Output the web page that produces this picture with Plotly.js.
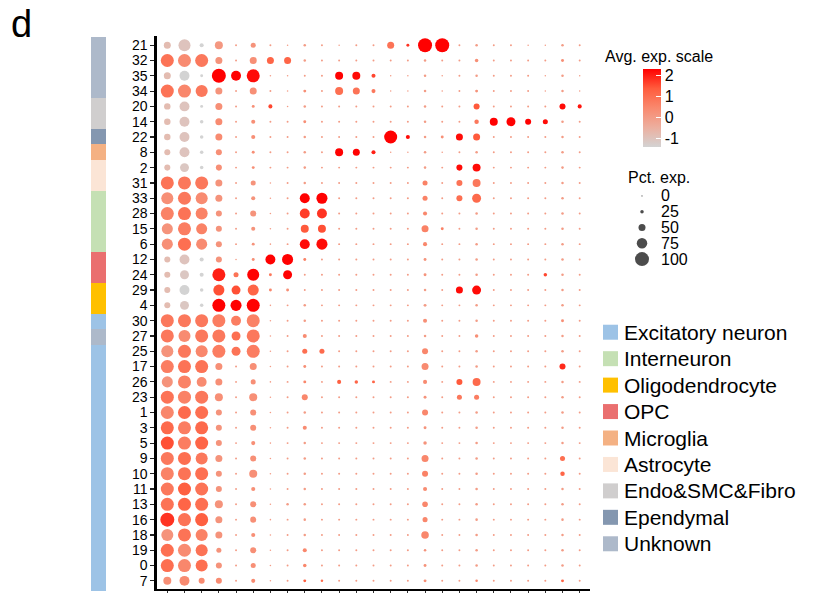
<!DOCTYPE html>
<html>
<head>
<meta charset="utf-8">
<script src="https://cdn.plot.ly/plotly-3.0.1.min.js"></script>
<style>html,body{margin:0;padding:0;background:#fff}#chart{width:814px;height:593px}</style>
</head>
<body>
<div id="chart"></div>
<script>
// ---------------- DATA ----------------
const clusters = ['21','32','35','34','20','14','22','8','2','31','33','28','15','6','12','24','29','4','30','27','25','17','26','23','1','3','5','9','10','11','13','16','18','19','0','7'];
const genes = ['G01','G02','G03','G04','G05','G06','G07','G08','G09','G10','G11','G12','G13','G14','G15','G16','G17','G18','G19','G20','G21','G22','G23','G24','G25'];
const clusterType = ['Unknown','Unknown','Unknown','Unknown','Endo&SMC&Fibro','Endo&SMC&Fibro','Ependymal','Microglia','Astrocyte','Astrocyte',
  'Interneuron','Interneuron','Interneuron','Interneuron','OPC','OPC','Oligodendrocyte','Oligodendrocyte','Excitatory neuron','Unknown',
  'Excitatory neuron','Excitatory neuron','Excitatory neuron','Excitatory neuron','Excitatory neuron','Excitatory neuron','Excitatory neuron','Excitatory neuron',
  'Excitatory neuron','Excitatory neuron','Excitatory neuron','Excitatory neuron','Excitatory neuron','Excitatory neuron','Excitatory neuron','Excitatory neuron'];
const cellTypes = ['Excitatory neuron','Interneuron','Oligodendrocyte','OPC','Microglia','Astrocyte','Endo&SMC&Fibro','Ependymal','Unknown'];
const cellTypeColors = ['#9DC3E6','#C5E0B4','#FFC000','#EA6F6F','#F4B183','#FBE5D6','#D0CECE','#8497B0','#ADB9CA'];
const pctBreaks = [0,25,50,75,100];
const expTicks = [-1,0,1,2];

// percent expressed (rows = clusters, cols = genes)
const pct = [
 [50,86,29,57,14,36,14,11,18,14,11,14,14,50,21,100,100,14,18,14,14,11,11,18,14], // 21
 [93,93,93,50,14,50,50,50,18,14,14,14,14,14,14,18,14,14,25,14,14,14,14,21,14], // 32
 [50,71,21,100,71,93,11,11,14,14,57,57,29,11,11,18,11,14,18,14,14,14,11,18,11], // 35
 [93,93,86,50,14,50,14,11,21,14,57,50,29,11,11,18,11,14,21,14,14,14,11,18,11], // 34
 [46,71,21,50,14,21,29,11,18,14,14,14,14,14,14,18,14,14,43,14,14,14,14,43,29], // 20
 [46,71,25,50,14,29,14,14,21,14,14,14,14,14,14,18,14,14,32,57,64,43,36,18,14], // 14
 [46,71,25,50,14,29,14,14,18,14,14,14,14,93,29,18,21,50,50,14,14,14,14,18,14], // 22
 [43,71,25,43,14,21,14,14,18,14,57,50,29,11,11,18,11,14,18,14,14,14,14,18,14], // 8
 [43,64,25,43,14,21,14,14,18,14,14,14,14,14,14,18,14,43,57,14,14,14,14,18,14], // 2
 [93,93,93,50,14,36,11,14,18,14,14,14,14,14,14,36,14,43,57,14,14,14,14,18,14], // 31
 [86,93,86,50,14,29,11,14,71,79,14,14,14,14,14,36,14,43,64,14,14,14,14,18,14], // 33
 [93,93,86,43,14,43,11,14,71,71,14,14,14,14,14,29,14,14,18,14,14,14,14,18,14], // 28
 [79,93,79,43,14,29,11,14,57,57,14,14,14,14,14,50,21,14,18,14,14,14,14,18,14], // 15
 [79,93,79,43,14,21,11,14,71,79,14,14,14,14,14,29,14,14,18,14,14,14,14,18,14], // 6
 [43,71,29,43,11,21,71,79,21,14,14,14,14,14,14,21,14,14,18,14,14,14,14,18,14], // 12
 [43,64,29,93,36,86,21,64,14,14,14,14,14,14,14,21,14,14,18,14,14,14,25,18,14], // 24
 [43,71,25,79,64,79,21,21,14,14,14,14,14,14,14,18,14,50,64,14,14,14,14,18,14], // 29
 [43,64,25,93,79,93,11,14,18,14,14,14,14,14,14,21,14,14,18,14,14,14,14,18,14], // 4
 [93,93,93,93,71,93,11,14,18,14,14,14,14,14,14,29,14,14,18,14,14,14,14,21,14], // 30
 [93,86,93,93,64,93,11,14,29,14,14,14,14,14,14,18,14,14,25,14,14,14,14,18,14], // 27
 [86,93,86,93,64,93,11,14,36,36,14,14,14,14,14,43,14,14,18,14,14,14,14,18,14], // 25
 [93,93,93,50,14,50,11,14,21,14,14,14,14,14,14,50,14,14,18,14,14,14,14,43,14], // 17
 [79,93,71,50,14,36,11,14,21,14,29,25,21,14,14,29,14,43,57,14,14,14,14,18,14], // 26
 [93,93,93,57,14,57,11,14,43,14,14,14,14,14,14,21,14,36,36,14,14,14,14,18,14], // 23
 [93,93,93,43,14,43,11,14,18,14,14,14,14,14,14,43,14,14,18,14,14,14,14,18,14], // 1
 [93,93,93,43,14,43,11,14,29,14,14,14,14,14,14,21,14,14,18,14,14,14,14,18,14], // 3
 [93,93,93,43,14,29,11,14,18,14,14,14,14,14,14,25,14,14,18,14,14,14,14,18,14], // 5
 [93,93,86,50,14,43,11,14,18,14,14,14,14,14,14,50,14,14,18,14,14,14,14,36,14], // 9
 [93,93,93,43,14,57,11,14,18,14,14,14,14,14,14,43,14,14,18,14,14,14,14,32,14], // 10
 [93,93,93,43,14,29,11,14,18,14,14,14,14,14,14,29,14,14,18,14,14,14,14,18,14], // 11
 [93,93,93,57,14,43,11,18,18,14,14,14,14,14,14,40,14,14,18,14,14,14,14,18,14], // 13
 [100,93,93,50,14,43,11,14,18,14,14,14,14,14,14,36,14,14,18,14,14,14,14,18,14], // 16
 [86,93,86,50,14,29,11,14,18,14,14,14,14,14,14,54,14,14,18,14,14,14,14,18,14], // 18
 [93,93,86,36,14,43,11,14,29,14,14,14,14,14,14,18,14,14,18,14,14,14,14,18,14], // 19
 [93,93,86,43,14,36,11,14,25,14,14,14,14,14,14,21,14,14,18,14,14,14,14,18,14], // 0
 [57,71,43,43,14,29,11,14,21,18,14,14,14,14,14,21,14,14,18,14,14,14,14,21,14]  // 7
];
// scaled average expression
const avgExp = [
 [-0.8,-1.0,-1.4,0.1,0,0.2,0,0,0,0,0,0,0,0.9,1.8,2.3,2.3,0,0,0,0,0,0,0,0], // 21
 [0.9,0.4,0.8,0.2,0,0.3,1.2,1.2,0,0,0,0,0,0,0,0,0,0,0.3,0,0,0,0,0.3,0], // 32
 [-0.8,-1.4,-1.4,2.3,2.3,2.2,0,0,0,0,2.3,2.2,1.6,0,0,0,0,0,0,0,0,0,0,0,0], // 35
 [0.9,0.5,0.8,0.2,0,0.3,0,0,0.3,0,1.0,0.9,0.8,0,0,0,0,0,0.2,0,0,0,0,0,0], // 34
 [-0.8,-1.0,-1.4,0.3,0,0.3,1.6,0,0,0,0,0,0,0,0,0,0,0,1.4,0,0,0,0,2.2,2.1], // 20
 [-0.8,-1.0,-1.4,0.4,0,0.3,0,0,0.3,0,0,0,0,0,0,0,0,0,0.8,2.3,2.3,2.3,2.2,0,0], // 14
 [-0.8,-1.0,-1.4,0.4,0,0.3,0,0,0,0,0,0,0,2.3,2.2,0,0.3,2.2,1.4,0,0,0,0,0,0], // 22
 [-0.8,-1.0,-1.4,0.3,0,0.3,0,0,0,0,2.3,2.3,2.0,0,0,0,0,0,0,0,0,0,0,0,0], // 8
 [-0.8,-1.1,-1.4,0.3,0,0.3,0,0,0,0,0,0,0,0,0,0,0,2.2,2.2,0,0,0,0,0,0], // 2
 [0.9,0.8,0.8,0.2,0,0.2,0,0,0,0,0,0,0,0,0,0.6,0,0.9,0.8,0,0,0,0,0,0], // 31
 [0.3,0.8,0.4,0.2,0,0.2,0,0,2.3,2.3,0,0,0,0,0,0.6,0,1.0,1.1,0,0,0,0,0,0], // 33
 [0.6,0.9,0.6,0.2,0,0.2,0,0,1.7,1.8,0,0,0,0,0,0.5,0,0,0,0,0,0,0,0,0], // 28
 [0.2,0.7,0.6,0.2,0,0.2,0,0,1.4,1.5,0,0,0,0,0,0.6,0.6,0,0,0,0,0,0,0,0], // 15
 [0.3,1.0,0.4,0.2,0,0.2,0,0,2.2,2.2,0,0,0,0,0,0.5,0,0,0,0,0,0,0,0,0], // 6
 [-0.8,-1.0,-1.4,0.2,0,0.3,2.3,2.3,0.6,0,0,0,0,0,0,0.2,0,0,0,0,0,0,0,0,0], // 12
 [-0.8,-1.1,-1.4,2.0,0.9,2.3,0.8,2.3,0,0,0,0,0,0,0,0.2,0,0,0,0,0,0,1.6,0,0], // 24
 [-0.8,-1.4,-1.4,1.5,1.5,1.2,0.5,0.3,0,0,0,0,0,0,0,0,0,2.2,2.2,0,0,0,0,0,0], // 29
 [-0.8,-1.1,-1.4,2.3,2.3,2.3,0,0,0,0,0,0,0,0,0,0,0,0,0,0,0,0,0,0,0], // 4
 [0.8,0.8,0.8,0.7,0.7,0.6,0,0,0,0,0,0,0,0,0,0.3,0,0,0,0,0,0,0,0.3,0], // 30
 [0.8,0.4,0.8,0.8,1.0,0.8,0,0,0.4,0,0,0,0,0,0,0,0,0,0.3,0,0,0,0,0,0], // 27
 [0.2,0.8,0.5,0.7,0.9,0.7,0,0,1.0,1.1,0,0,0,0,0,0.5,0,0,0,0,0,0,0,0,0], // 25
 [0.7,0.9,0.9,0.3,0,0.3,0,0,0.3,0,0,0,0,0,0,0.4,0,0,0,0,0,0,0,1.9,0], // 17
 [0.2,0.6,0.4,0.3,0,0.3,0,0,0.5,0,1.3,1.2,1.2,0,0,0.4,0,1.4,1.1,0,0,0,0,0,0], // 26
 [0.9,0.6,0.8,0.3,0,0.3,0,0,0.5,0,0,0,0,0,0,0.2,0,0.8,0.7,0,0,0,0,0,0], // 23
 [0.5,1.1,1.0,0.2,0,0.3,0,0,0,0,0,0,0,0,0,0.5,0,0,0,0,0,0,0,0,0], // 1
 [1.1,0.7,1.1,0.2,0,0.3,0,0,0.4,0,0,0,0,0,0,0.2,0,0,0,0,0,0,0,0,0], // 3
 [1.5,0.7,1.2,0.2,0,0.3,0,0,0,0,0,0,0,0,0,0.2,0,0,0,0,0,0,0,0,0], // 5
 [0.8,1.0,0.8,0.2,0,0.3,0,0,0,0,0,0,0,0,0,0.5,0,0,0,0,0,0,0,1.0,0], // 9
 [0.6,0.9,1.0,0.2,0,0.3,0,0,0,0,0,0,0,0,0,0.6,0,0,0,0,0,0,0,1.2,0], // 10
 [0.8,1.3,0.9,0.2,0,0.3,0,0,0,0,0,0,0,0,0,0.4,0,0,0,0,0,0,0,0,0], // 11
 [0.9,1.2,1.0,0.2,0,0.3,0,0,0,0,0,0,0,0,0,0.5,0,0,0,0,0,0,0,0,0], // 13
 [1.8,0.9,1.3,0.2,0,0.3,0,0,0,0,0,0,0,0,0,0.5,0,0,0,0,0,0,0,0,0], // 16
 [0.2,0.9,0.6,0.2,0,0.3,0,0,0,0,0,0,0,0,0,0.5,0,0,0,0,0,0,0,0,0], // 18
 [1.0,0.4,0.9,0.2,0,0.3,0,0,0.5,0,0,0,0,0,0,0.2,0,0,0,0,0,0,0,0,0], // 19
 [1.0,0.5,1.0,0.2,0,0.3,0,0,0.5,0,0,0,0,0,0,0.2,0,0,0,0,0,0,0,0,0], // 0
 [0.3,0.4,0.4,0.4,0,0.4,0,0,1.3,1.0,0,0,0,0,0,0.3,0,0,0.5,0,0,0,0,1.2,0]  // 7
];

// ---------------- STYLE / BUILD ----------------
const W = 814, H = 593;
const FONT = 'Arial, "Liberation Sans", sans-serif';
const px = v => v / W;               // horizontal pixel -> paper
const py = v => (H - v) / H;         // vertical pixel -> paper
const dia = p => Math.max(p * 0.14, 1.2);
const colorscale = [[0,'#D3D3D3'],[0.25,'#ECAF9F'],[0.5,'#F9896E'],[0.75,'#FF5C3D'],[1,'#FF0000']];
const CMIN = -1.4, CMAX = 2.31;

const xs = [], ys = [], sz = [], cl = [];
clusters.forEach((c, i) => {
  genes.forEach((g, j) => {
    xs.push(g); ys.push(c);
    sz.push(dia(pct[i][j]));
    cl.push(Math.max(CMIN, Math.min(CMAX, avgExp[i][j])));
  });
});

const typeColor = t => cellTypeColors[cellTypes.indexOf(t)];

const traces = [
  {
    type: 'scatter', mode: 'markers', x: xs, y: ys, xaxis: 'x', yaxis: 'y',
    hoverinfo: 'skip', showlegend: false,
    marker: {
      size: sz, color: cl, colorscale: colorscale, cmin: CMIN, cmax: CMAX,
      opacity: 1, line: {width: 0},
      showscale: true,
      colorbar: {
        x: px(643), xanchor: 'left', y: py(108), yanchor: 'middle',
        len: 78, lenmode: 'pixels', thickness: 18, thicknessmode: 'pixels',
        xpad: 0, ypad: 0, outlinewidth: 0,
        tickvals: expTicks, ticktext: expTicks.map(String),
        ticks: 'inside', ticklen: 5, tickcolor: '#ffffff', tickwidth: 1,
        tickfont: {family: FONT, size: 16, color: '#000'}
      }
    }
  },
  // left cell-type colour strip
  {
    type: 'bar', orientation: 'h', x: clusters.map(() => 1), y: clusters,
    xaxis: 'x2', yaxis: 'y2', width: 1, hoverinfo: 'skip', showlegend: false,
    marker: {color: clusterType.map(typeColor), line: {width: 0}}
  },
  // size legend
  {
    type: 'scatter', mode: 'markers', x: pctBreaks.map(() => 642), y: pctBreaks.map((b, i) => i),
    xaxis: 'x3', yaxis: 'y3', hoverinfo: 'skip', showlegend: false,
    marker: {size: pctBreaks.map(dia), color: '#000', line: {width: 0}}
  },
  // cell-type legend
  {
    type: 'scatter', mode: 'markers', x: cellTypes.map(() => 610.5), y: cellTypes,
    xaxis: 'x4', yaxis: 'y4', hoverinfo: 'skip', showlegend: false,
    marker: {symbol: 'square', size: 15, color: cellTypeColors, line: {width: 0}}
  }
];

const hidden = {visible: false, fixedrange: true};
const annotations = [
  {text: 'd', xref: 'paper', yref: 'paper', x: px(9), y: py(24), xanchor: 'left', yanchor: 'middle', showarrow: false, font: {family: FONT, size: 38, color: '#000'}},
  {text: 'Avg. exp. scale', xref: 'paper', yref: 'paper', x: px(603), y: py(56), xanchor: 'left', yanchor: 'middle', showarrow: false, font: {family: FONT, size: 16, color: '#000'}},
  {text: 'Pct. exp.', xref: 'paper', yref: 'paper', x: px(626), y: py(178), xanchor: 'left', yanchor: 'middle', showarrow: false, font: {family: FONT, size: 16, color: '#000'}}
];
pctBreaks.forEach((b, i) => annotations.push({text: String(b), xref: 'x3', yref: 'y3', x: 659, y: i, xanchor: 'left', yanchor: 'middle', showarrow: false, font: {family: FONT, size: 16, color: '#000'}}));
cellTypes.forEach(t => annotations.push({text: t, xref: 'x4', yref: 'y4', x: 622, y: t, xanchor: 'left', yanchor: 'middle', showarrow: false, font: {family: FONT, size: 21, color: '#000'}}));

const layout = {
  width: W, height: H,
  margin: {l: 0, r: 0, t: 0, b: 0, pad: 0},
  paper_bgcolor: '#fff', plot_bgcolor: 'rgba(0,0,0,0)',
  bargap: 0,
  font: {family: FONT, color: '#000'},
  xaxis: {
    domain: [px(157), px(590)], type: 'category', categoryorder: 'array', categoryarray: genes,
    range: [-0.6, genes.length - 0.4], showgrid: false, zeroline: false,
    showline: true, linewidth: 2.6, linecolor: '#000',
    tickmode: 'array', tickvals: genes,
    ticks: 'outside', ticklen: 4, tickwidth: 1, tickcolor: '#333', showticklabels: false, fixedrange: true
  },
  yaxis: {
    domain: [py(588.5), py(36)], type: 'category', categoryorder: 'array', categoryarray: clusters,
    range: [clusters.length - 0.5, -0.6], showgrid: false, zeroline: false,
    showline: true, linewidth: 2.6, linecolor: '#000',
    tickmode: 'array', tickvals: clusters, ticktext: clusters,
    ticks: 'outside', ticklen: 4, tickwidth: 1.2, tickcolor: '#222',
    tickfont: {family: FONT, size: 14, color: '#000'}, fixedrange: true
  },
  xaxis2: Object.assign({domain: [px(91), px(106)], range: [0, 1], anchor: 'y2'}, hidden),
  yaxis2: Object.assign({domain: [py(591), py(36.5)], type: 'category', categoryorder: 'array', categoryarray: clusters,
    range: [clusters.length - 0.5, -0.5], anchor: 'x2'}, hidden),
  xaxis3: Object.assign({domain: [px(630), px(720)], range: [630, 720], anchor: 'y3'}, hidden),
  yaxis3: Object.assign({domain: [py(267), py(188)], range: [pctBreaks.length - 0.5, -0.5], anchor: 'x3'}, hidden),
  xaxis4: Object.assign({domain: [px(600), px(810)], range: [600, 810], anchor: 'y4'}, hidden),
  yaxis4: Object.assign({domain: [py(557), py(319)], type: 'category', categoryorder: 'array', categoryarray: cellTypes,
    range: [cellTypes.length - 0.5, -0.5], anchor: 'x4'}, hidden),
  annotations: annotations
};

Plotly.newPlot('chart', traces, layout, {displayModeBar: false, staticPlot: true});
</script>
</body>
</html>
